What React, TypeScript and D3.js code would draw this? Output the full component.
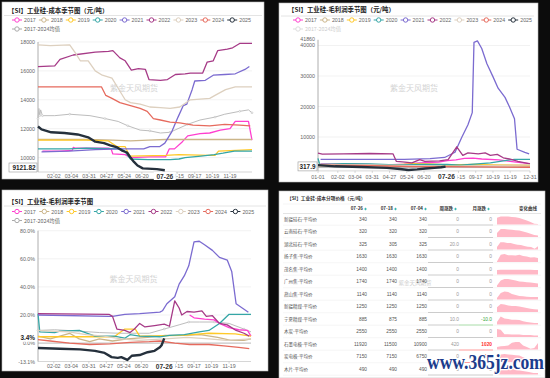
import React from "react";
import * as d3 from "d3";

type Pt = [number, number];

const YEARS = ["2017", "2018", "2019", "2020", "2021", "2022", "2023", "2024", "2025"];
const YEAR_COLORS = ["#ff3fcf", "#cbb589", "#ffc928", "#35a6a6", "#7b6bd0", "#a63a87", "#ddd0bf", "#e66a5d", "#25303c"];
const AVG_NAME = "2017-2024均值";
const AVG_COLOR = "#bdbdbd";

// x = trading-day index of the year (0 = 01-01, 246 = 12-31)
const X_TICKS: [number, string][] = [
  [0, "01-01"], [23, "02-02"], [43, "03-04"], [63, "03-31"], [83, "04-27"], [103, "05-24"],
  [123, "06-20"], [163, "08-15"], [183, "09-17"], [203, "10-19"], [223, "11-19"], [246, "12-31"],
];
const CURRENT: [number, string] = [149, "07-26"];

// ---------- cost (元/吨) ----------
const cost2017: Pt[] = [[10, 10450], [30, 10450], [44, 10500], [45, 10700], [47, 10650], [85, 10650], [88, 10600], [90, 10250], [104, 10200], [110, 10000], [132, 10050], [150, 10050], [154, 10600], [160, 10600], [169, 11100], [175, 11500], [189, 11650], [200, 11700], [212, 11900], [223, 12000], [229, 12500], [244, 12500], [248, 11200]];
const cost2018: Pt[] = [[5, 11250], [60, 11250], [90, 11200], [110, 11150], [130, 11200], [150, 11250], [190, 11250], [248, 11250]];
const cost2019: Pt[] = [[5, 11200], [60, 11200], [85, 11150], [95, 10750], [104, 10750], [109, 10100], [150, 10150], [165, 10200], [200, 10150], [206, 10150], [210, 10450], [230, 10500], [248, 10550]];
const cost2020: Pt[] = [[5, 10600], [40, 10600], [60, 10650], [100, 10600], [104, 10400], [110, 9900], [130, 9850], [155, 9850], [165, 9900], [172, 10000], [190, 10100], [205, 10200], [215, 10300], [228, 10450], [248, 10450]];
const cost2021: Pt[] = [[9, 10400], [40, 10450], [70, 10550], [100, 10600], [125, 10600], [132, 10750], [143, 10750], [149, 11000], [157, 11800], [164, 12800], [170, 13600], [174, 13700], [180, 14700], [183, 15300], [195, 15350], [204, 15700], [217, 15750], [229, 15800], [240, 16100], [245, 16300]];
const cost2022: Pt[] = [[5, 16300], [24, 16350], [30, 16800], [45, 17100], [70, 17300], [85, 17350], [90, 17400], [98, 16900], [104, 16700], [111, 16050], [119, 16150], [127, 16100], [131, 15400], [144, 15350], [152, 15400], [161, 15750], [172, 15800], [178, 15850], [192, 15850], [197, 16600], [204, 16700], [209, 17400], [220, 17500], [226, 17600], [234, 17900], [248, 17900]];
const cost2023: Pt[] = [[5, 17800], [19, 17750], [41, 17800], [48, 17200], [53, 16700], [62, 16700], [70, 16000], [78, 15700], [89, 15500], [96, 14800], [104, 14000], [110, 13800], [121, 13700], [132, 13500], [144, 13450], [155, 13400], [166, 13500], [178, 14000], [200, 14100], [206, 14300], [218, 14700], [229, 14900], [248, 14900]];
const cost2024: Pt[] = [[5, 14900], [77, 14900], [82, 14300], [89, 14100], [98, 13800], [110, 13600], [121, 13400], [129, 13200], [136, 12700], [144, 12600], [155, 12450], [166, 12400], [181, 12250], [200, 12200], [217, 12300], [234, 12250], [246, 12200]];
const cost2025: Pt[] = [[5, 12150], [9, 11950], [20, 11750], [35, 11700], [50, 11600], [62, 11400], [70, 11100], [80, 11000], [87, 10850], [95, 10700], [100, 10500], [106, 10350], [110, 10000], [114, 9700], [118, 9450], [124, 9250], [140, 9200], [149, 9121.82]];
const costAvg: Pt[] = [[5, 12700], [6, 13400], [7, 12900], [8, 13300], [10, 12900], [24, 12900], [41, 13000], [64, 12900], [81, 12700], [96, 12500], [107, 12200], [121, 11900], [132, 11850], [144, 11700], [155, 11750], [164, 12000], [175, 12300], [189, 12600], [206, 12800], [217, 13000], [234, 13200], [244, 13300], [248, 13100]];
const COST_Y_TICKS = [10000, 12000, 14000, 16000, 18000];

// ---------- gross profit (元/吨) ----------
const profit2017: Pt[] = [[3, 1200], [40, 1100], [80, 900], [100, 1100], [118, 1500], [140, 1800], [150, 2300], [160, 2500], [170, 3000], [180, 3100], [190, 2800], [210, 2500], [230, 1800], [246, 1300]];
const profit2018: Pt[] = [[0, 500], [60, 600], [120, 500], [180, 600], [246, 500]];
const profit2019: Pt[] = [[0, 800], [40, 800], [90, 900], [110, 1300], [130, 1200], [150, 900], [180, 1000], [210, 900], [246, 800]];
const profit2020: Pt[] = [[0, 3000], [2, 1000], [30, 1300], [60, 1200], [90, 900], [120, 1000], [150, 1000], [165, 800], [185, 1200], [200, 1500], [215, 2200], [228, 2700], [246, 2700]];
const profit2021: Pt[] = [[3, 2700], [60, 2700], [100, 2700], [130, 2900], [147, 3300], [159, 5000], [167, 10000], [174, 14000], [179, 18000], [181, 41000], [185, 41500], [190, 39000], [196, 34000], [203, 29800], [209, 26000], [217, 23000], [222, 20000], [228, 16000], [231, 6000], [240, 5000], [245, 4500]];
const profit2022: Pt[] = [[0, 4700], [5, 4400], [30, 4500], [60, 4600], [87, 4500], [91, 2000], [101, 1800], [109, 1500], [118, 2600], [124, 2000], [141, 2200], [151, 2600], [161, 6800], [168, 4000], [174, 4800], [186, 4500], [194, 4800], [200, 4000], [208, 4300], [215, 3200], [222, 2800], [232, 2000], [246, 1200]];
const profit2023: Pt[] = [[0, 1000], [60, 900], [100, 700], [150, 400], [200, 700], [246, 900]];
const profit2024: Pt[] = [[0, 800], [40, 700], [80, 500], [110, 300], [150, 300], [190, 200], [246, 100]];
const profit2025: Pt[] = [[0, 800], [20, 400], [50, 200], [80, -100], [95, -500], [105, -800], [115, -600], [125, -300], [135, -100], [143, 100], [148, 317.9]];
const PROFIT_Y_TICKS = [0, 10000, 20000, 30000, 40000];
const PROFIT_MAX = 41860;

// ---------- gross margin (%) ----------
const rate2017: Pt[] = [[178, 20], [183, 18], [195, 17], [206, 16.5], [212, 14], [223, 11], [234, 9.5], [244, 9], [248, 5]];
const rate2018: Pt[] = [[5, 5], [19, 3], [41, 7], [52, 3], [64, 1], [75, 3], [90, 1.5], [107, 3], [130, 4], [150, 5.5], [170, 5.5], [190, 6], [210, 4], [225, 2], [240, 2], [248, 3]];
const rate2019: Pt[] = [[5, 4.5], [80, 4.5], [92, 4.5], [104, 10], [116, 10], [121, 5], [170, 5.5], [200, 7], [230, 6.5], [248, 5]];
const rate2020: Pt[] = [[5, 21], [7, 8], [24, 7.5], [30, 8.5], [52, 9], [70, 5], [92, 5], [104, 3.5], [110, 6], [121, 5], [144, 4.5], [155, 5.5], [172, 6], [189, 8], [200, 9], [212, 14], [223, 20.5], [248, 20.5]];
const rate2021: Pt[] = [[5, 20], [86, 19], [90, 19], [104, 20.5], [121, 21], [144, 22], [147, 23], [152, 28], [161, 33], [166, 42], [172, 48], [177, 55], [183, 72], [189, 72.5], [195, 70], [204, 66], [212, 61], [221, 59], [226, 51], [231, 28], [238, 25], [245, 22]];
const rate2022: Pt[] = [[5, 21], [86, 20.5], [90, 19], [95, 10], [104, 9], [110, 7.5], [115, 10], [121, 14], [127, 11.5], [138, 12.5], [149, 13.5], [155, 12], [161, 30], [166, 25], [169, 20], [175, 22.5], [183, 22], [192, 23], [197, 19], [204, 19.5], [212, 14], [221, 13], [231, 9], [240, 7], [246, 5]];
const rate2023: Pt[] = [[5, 9], [20, 8.5], [40, 8], [60, 6], [80, 5], [100, 3], [120, 2], [150, 3], [175, 4], [200, 3], [220, 2], [248, 3]];
const rate2024: Pt[] = [[5, 2.5], [19, 1.5], [41, 0], [64, -1], [87, -0.5], [110, 0.5], [132, 1], [144, 1.5], [161, 0], [178, -1], [200, -1], [217, -2], [234, -3], [246, -4]];
const rate2025: Pt[] = [[5, -3.5], [30, -4], [53, -4.5], [70, -5.5], [81, -7], [89, -10], [96, -10.5], [100, -10], [107, -12], [112, -9], [121, -8.5], [130, -6.5], [138, -5.5], [144, -3], [146, -1.5], [149, 3.4]];
const rateAvg: Pt[] = [[5, 9], [24, 9.5], [52, 8.5], [75, 7.5], [98, 7], [132, 7], [149, 10], [166, 13], [177, 15], [189, 15], [206, 15], [223, 14], [240, 10], [248, 8]];
const RATE_Y_TICKS = [0, 20, 40, 60, 80];
const RATE_MIN = -13.1;

// ---------- table ----------
const T_TITLE = "【SI】工业硅-成本分项价格（元/吨）";
const T_HEAD = ["07-26", "07-18", "07-04", "周涨跌", "月涨跌", "变化曲线"];
const T_NAMES = ["新疆硅石-平均价", "云南硅石-平均价", "湖北硅石-平均价", "扬子焦-平均价", "茂名焦-平均价", "广州焦-平均价", "燕山焦-平均价", "新疆精煤-平均价", "宁夏精煤-平均价", "木炭-平均价", "石墨电极-平均价", "炭电极-平均价", "木片-平均价"];
const T_0726 = [340, 320, 325, 1630, 1400, 1740, 1140, 1250, 885, 2550, 11920, 7150, 490];
const T_0718 = [340, 320, 305, 1630, 1400, 1740, 1140, 1250, 875, 2550, 11500, 7150, 490];
const T_0704 = [340, 320, 325, 1630, 1400, 1740, 1140, 1250, 885, 2550, 10900, 6750, 490];
const T_WEEK = ["0", "0", "20.0", "0", "0", "0", "0", "0", "10.0", "0", "420", "0", "0"];
const T_MONTH = [0, 0, 0, 0, 0, 0, 0, 0, -10.0, 0, 1020, 400, 0];
const T_SPARK: number[][] = [
  [0.85, 1, 1, 1, 0.95, 0.9, 0.8, 0.65, 0.5, 0.3, 0.1, 0.05],
  [0.5, 1, 1, 0.95, 0.9, 0.85, 0.8, 0.7, 0.55, 0.4, 0.25, 0.2],
  [0.3, 0.9, 0.9, 0.8, 0.8, 0.7, 0.6, 0.55, 0.45, 0.35, 0.3, 0.1, 0.4],
  [0.05, 0.9, 1, 0.85, 0.85, 0.8, 0.9, 0.75, 0.7, 0.55, 0.6, 0.5],
  [0.55, 0.6, 0.6, 0.6, 0.6, 0.6, 0.6, 0.6, 0.6, 0.6, 0.55, 0.55],
  [0.2, 0.8, 1, 1, 0.9, 0.8, 0.7, 0.65, 0.6, 0.55, 0.5, 0.45],
  [0.2, 0.8, 1, 0.95, 0.7, 0.55, 0.45, 0.4, 0.35, 0.3, 0.3, 0.3],
  [0.6, 1, 0.95, 0.8, 0.75, 0.75, 0.7, 0.6, 0.5, 0.4, 0.35, 0.3],
  [0.3, 1, 0.75, 0.7, 0.6, 0.6, 0.55, 0.4, 0.3, 0.25, 0.2, 0.2],
  [1, 0.9, 0.35, 0.35, 0.3, 0.3, 0.3, 0.25, 0.25, 0.25, 0.2, 0.2],
  [0.3, 0.4, 0.45, 0.5, 0.85, 0.95, 0.95, 0.5, 0.3, 0.1, 0.2, 0.8],
  [0.6, 0.95, 1, 0.95, 0.9, 0.85, 0.8, 0.6, 0.4, 0.2, 0.2, 0.1],
  [0.2, 0.6, 0.9, 0.8, 0.6, 0.5, 0.4, 0.3, 0.2, 0.2],
];

const WATERMARK = "紫金天风期货";
const SITE = "www.365jz.com";

const SANS = "'Liberation Sans', Arial, 'Noto Sans CJK SC', sans-serif";
const CJK = "'Noto Sans CJK SC', sans-serif";

type PanelProps = {
  title: string; titleX: number; titleY: number; ruleY: number; ruleX: [number, number];
  lx0: number; ldx: number; ly1: number; ly2: number; avgDim?: boolean;
  px: [number, number]; py: [number, number]; xDomain: [number, number]; yDomain: [number, number];
  yTicks: number[]; fmt: (v: number) => string; extraTop?: string; extraBottom?: string;
  xTicks: [number, string][]; xLabelY: number; zeroY?: number;
  series: Pt[][]; avg?: Pt[]; end: { v: number; text: string; boxed: boolean; bx: number };
  wm: [number, number];
};

function Panel(p: PanelProps) {
  const x = d3.scaleLinear().domain(p.xDomain).range(p.px);
  const y = d3.scaleLinear().domain(p.yDomain).range([p.py[1], p.py[0]]);
  const line = d3.line<Pt>().x(d => x(d[0])).y(d => y(d[1]));
  const endY = Math.min(y(p.end.v), p.py[1] - 4.5);
  return (
    <g>
      <text x={p.titleX} y={p.titleY} fontFamily={CJK} fontWeight="bold" fontSize={6.4} fill="#222">{p.title}</text>
      <line x1={p.ruleX[0]} x2={p.ruleX[1]} y1={p.ruleY} y2={p.ruleY} stroke="#ddd" strokeWidth={0.8} />
      {YEARS.map((yr, i) => {
        const cx = p.lx0 + i * p.ldx;
        return (
          <g key={yr}>
            <line x1={cx - 5} x2={cx + 5} y1={p.ly1} y2={p.ly1} stroke={YEAR_COLORS[i]} strokeWidth={1} />
            <circle cx={cx} cy={p.ly1} r={2.2} fill="#fff" stroke={YEAR_COLORS[i]} strokeWidth={1} />
            <text x={cx + 7} y={p.ly1 + 2} fontFamily={SANS} fontSize={5.3} fill="#666">{yr}</text>
          </g>
        );
      })}
      <g>
        <line x1={p.lx0 - 5} x2={p.lx0 + 5} y1={p.ly2} y2={p.ly2} stroke={p.avgDim ? "#ddd" : "#aaa"} strokeWidth={1} />
        <circle cx={p.lx0} cy={p.ly2} r={2.2} fill="#fff" stroke={p.avgDim ? "#ddd" : "#aaa"} strokeWidth={1} />
        <text x={p.lx0 + 7} y={p.ly2 + 2} fontFamily={CJK} fontSize={5.3} fill={p.avgDim ? "#ccc" : "#666"}>{AVG_NAME}</text>
      </g>
      <text x={(p.px[0] + p.px[1]) / 2 + p.wm[0]} y={p.wm[1]} textAnchor="middle" fontFamily={CJK} fontSize={8} fill="#d4d4d4">{WATERMARK}</text>
      {p.yTicks.map(v => (
        <g key={v}>
          <line x1={p.px[0]} x2={p.px[1]} y1={y(v)} y2={y(v)} stroke={v === 0 && p.zeroY !== undefined ? "#999" : "#ececec"} strokeWidth={0.7} />
          <text x={p.px[0] - 3} y={y(v) + 2} textAnchor="end" fontFamily={SANS} fontSize={5.3} fill="#666">{p.fmt(v)}</text>
        </g>
      ))}
      {p.extraTop && <text x={p.px[0] - 3} y={p.py[0] + 1} textAnchor="end" fontFamily={SANS} fontSize={5.3} fill="#666">{p.extraTop}</text>}
      {p.extraBottom && <text x={p.px[0] - 3} y={p.py[1] + 2} textAnchor="end" fontFamily={SANS} fontSize={5.3} fill="#666">{p.extraBottom}</text>}
      <line x1={p.px[0]} x2={p.px[0]} y1={p.py[0]} y2={p.py[1]} stroke="#999" strokeWidth={0.8} />
      <line x1={p.px[0]} x2={p.px[1]} y1={p.py[1]} y2={p.py[1]} stroke="#bbb" strokeWidth={0.6} />
      {p.xTicks.map(([i, l]) => (
        <g key={l}>
          <line x1={x(i)} x2={x(i)} y1={p.py[1]} y2={p.py[1] + 2} stroke="#bbb" strokeWidth={0.6} />
          <text x={x(i)} y={p.xLabelY} textAnchor="middle" fontFamily={SANS} fontSize={5.3} fill="#666">{l}</text>
        </g>
      ))}
      <rect x={x(CURRENT[0]) - 11} y={p.xLabelY - 6} width={22} height={8} fill="#fff" />
      <text x={x(CURRENT[0])} y={p.xLabelY + 0.5} textAnchor="middle" fontFamily={SANS} fontWeight="bold" fontSize={6.6} fill="#333">{CURRENT[1]}</text>
      {p.avg && <path d={line(p.avg) || ""} fill="none" stroke={AVG_COLOR} strokeWidth={1} />}
      {p.avg && p.avg.filter((_, k) => k % 2 === 0).map((d, k) => (
        <circle key={k} cx={x(d[0])} cy={y(d[1])} r={0.9} fill="#fff" stroke={AVG_COLOR} strokeWidth={0.6} />
      ))}
      {p.series.map((s, i) => (
        <path key={i} d={line(s) || ""} fill="none" stroke={YEAR_COLORS[i]} strokeWidth={i === 8 ? 2.4 : 1.3} strokeLinejoin="round" />
      ))}
      {p.end.boxed ? (
        <g>
          <rect x={p.end.bx} y={endY - 4.5} width={p.px[0] - p.end.bx - 1} height={9} fill="#fff" stroke="#999" strokeWidth={0.6} />
          <text x={p.px[0] - 2.5} y={endY + 2.3} textAnchor="end" fontFamily={SANS} fontWeight="bold" fontSize={6.4} fill="#222">{p.end.text}</text>
        </g>
      ) : (
        <g>
          <rect x={p.end.bx} y={endY - 4.5} width={p.px[0] - p.end.bx - 1} height={8} fill="#fff" />
          <text x={p.px[0] - 3} y={endY + 1.5} textAnchor="end" fontFamily={SANS} fontWeight="bold" fontSize={6.4} fill="#222">{p.end.text}</text>
        </g>
      )}
    </g>
  );
}

function Table() {
  const rowY0 = 219, rowH = 12.5;
  const valRight = [367, 397, 427, 459, 492];
  const headRight = [363, 393, 423, 453, 486, 537];
  const sx = d3.scaleLinear().range([497, 538]);
  const sy = d3.scaleLinear().domain([0, 1]).range([0, -8]);
  return (
    <g>
      <text x={287} y={200} fontFamily={CJK} fontWeight="bold" fontSize={4.7} fill="#333">{T_TITLE}</text>
      <line x1={283} x2={541} y1={204} y2={204} stroke="#eee" strokeWidth={0.6} />
      {T_HEAD.map((h, j) => (
        <g key={h}>
          <text x={headRight[j]} y={210} textAnchor="end" fontFamily={CJK} fontWeight="bold" fontSize={4.5} fill="#333">{h}</text>
          {j < 5 && <path d={`M${headRight[j] + 2.5},${207.5}l1.3,1.5l-1.3,1.5l-1.3,-1.5z`} fill="#3cb8b0" />}
        </g>
      ))}
      <line x1={283} x2={541} y1={213.5} y2={213.5} stroke="#ddd" strokeWidth={0.8} />
      <text x={415} y={285} textAnchor="middle" fontFamily={CJK} fontSize={5.5} fill="#d0d0d0">{WATERMARK}</text>
      {T_NAMES.map((n, r) => {
        const cy = rowY0 + r * rowH;
        const m = T_MONTH[r];
        const mColor = m > 0 ? "#ff2d2d" : m < 0 ? "#3aa63a" : "#999";
        const mBar = m > 0 ? "#ff9a9a" : m < 0 ? "#a8dca8" : "#ccc";
        const sp = T_SPARK[r];
        sx.domain([0, sp.length - 1]);
        const area = d3.area<number>().x((_, k) => sx(k)).y0(cy + 5.5).y1(d => cy + 5.5 + sy(d));
        return (
          <g key={n}>
            <text x={284} y={cy + 1.7} fontFamily={CJK} fontSize={4.5} fill="#555">{n}</text>
            <text x={valRight[0]} y={cy + 1.7} textAnchor="end" fontFamily={SANS} fontSize={4.8} fill="#555">{T_0726[r]}</text>
            <text x={valRight[1]} y={cy + 1.7} textAnchor="end" fontFamily={SANS} fontSize={4.8} fill="#555">{T_0718[r]}</text>
            <text x={valRight[2]} y={cy + 1.7} textAnchor="end" fontFamily={SANS} fontSize={4.8} fill="#555">{T_0704[r]}</text>
            <text x={valRight[3]} y={cy + 1.7} textAnchor="end" fontFamily={SANS} fontSize={4.8} fill="#999">{T_WEEK[r]}</text>
            <text x={valRight[4]} y={cy + 1.7} textAnchor="end" fontFamily={SANS} fontSize={4.8} fontWeight={m > 0 ? "bold" : "normal"} fill={mColor}>{m === 0 ? "0" : m.toFixed(m % 1 === 0 && Math.abs(m) > 100 ? 0 : 1)}</text>
            <line x1={428} x2={459} y1={cy + 6} y2={cy + 6} stroke="#ccc" strokeWidth={1} />
            <line x1={459} x2={493} y1={cy + 6} y2={cy + 6} stroke={mBar} strokeWidth={1} />
            <line x1={283} x2={428} y1={cy + 6.2} y2={cy + 6.2} stroke="#f0f0f0" strokeWidth={0.6} />
            <line x1={493} x2={541} y1={cy + 6.2} y2={cy + 6.2} stroke="#f0f0f0" strokeWidth={0.6} />
            <path d={area(sp) || ""} fill="#ffb8c6" />
          </g>
        );
      })}
    </g>
  );
}

export default function App() {
  const fmtInt = (v: number) => String(v);
  const fmtPct = (v: number) => v.toFixed(1) + "%";
  const costTicks = X_TICKS.filter(t => t[0] >= 20 && t[0] <= 230);
  return (
    <div style={{ position: "fixed", left: 0, top: 0, width: 550, height: 378 }}>
      <svg width={550} height={378} viewBox="0 0 550 378" style={{ display: "block" }}>
        <rect x={0} y={0} width={550} height={378} fill="#0c0c0c" />
        <rect x={2} y={2} width={262} height={177} fill="#fff" stroke="#bbb" strokeWidth={0.6} />
        <rect x={279} y={3} width={259} height={179} fill="#fff" stroke="#bbb" strokeWidth={0.6} />
        <rect x={2} y={190} width={266} height={181} fill="#fff" stroke="#bbb" strokeWidth={0.6} />
        <rect x={279} y={191} width={266} height={187} fill="#fff" stroke="#bbb" strokeWidth={0.6} />

        <Panel
          title="【SI】工业硅-成本季节图（元/吨）" titleX={8} titleY={12.5} ruleY={15.5} ruleX={[4, 262]}
          lx0={17} ldx={26.9} ly1={20} ly2={29}
          px={[38, 252]} py={[42, 172]} xDomain={[5, 248]} yDomain={[9000, 18000]}
          yTicks={COST_Y_TICKS} fmt={fmtInt} xTicks={costTicks} xLabelY={178}
          series={[cost2017, cost2018, cost2019, cost2020, cost2021, cost2022, cost2023, cost2024, cost2025]}
          avg={costAvg} end={{ v: 9121.82, text: "9121.82", boxed: true, bx: 9 }} wm={[-11, 91]}
        />
        <Panel
          title="【SI】工业硅-毛利润季节图（元/吨）" titleX={288} titleY={12} ruleY={16} ruleX={[281, 534]}
          lx0={298} ldx={26.9} ly1={20} ly2={29} avgDim
          px={[318, 530]} py={[39.8, 170.9]} xDomain={[0, 246]} yDomain={[-1100, PROFIT_MAX]}
          yTicks={PROFIT_Y_TICKS} fmt={fmtInt} extraTop={String(PROFIT_MAX)} xTicks={X_TICKS} xLabelY={178.5} zeroY={0}
          series={[profit2017, profit2018, profit2019, profit2020, profit2021, profit2022, profit2023, profit2024, profit2025]}
          end={{ v: 317.9, text: "317.9", boxed: true, bx: 298 }} wm={[-10, 91]}
        />
        <Panel
          title="【SI】工业硅-毛利润率季节图" titleX={8} titleY={203.5} ruleY={206} ruleX={[4, 266]}
          lx0={17} ldx={27.3} ly1={211.5} ly2={220.5}
          px={[38, 251]} py={[230.7, 361.5]} xDomain={[5, 248]} yDomain={[RATE_MIN, 80]}
          yTicks={RATE_Y_TICKS} fmt={fmtPct} extraBottom={RATE_MIN.toFixed(1) + "%"} xTicks={costTicks} xLabelY={368} zeroY={0}
          series={[rate2017, rate2018, rate2019, rate2020, rate2021, rate2022, rate2023, rate2024, rate2025]}
          avg={rateAvg} end={{ v: 3.4, text: "3.4%", boxed: false, bx: 10 }} wm={[-11, 282]}
        />
        <Table />
        <text x={427} y={369} fontFamily="'Liberation Serif', 'DejaVu Serif', serif" fontWeight="bold" fontSize={20}
          textLength={117} lengthAdjust="spacingAndGlyphs" fill="#1c3c8c" stroke="#fff" strokeWidth={2.5}
          paintOrder="stroke" strokeLinejoin="round">{SITE}</text>
      </svg>
    </div>
  );
}
